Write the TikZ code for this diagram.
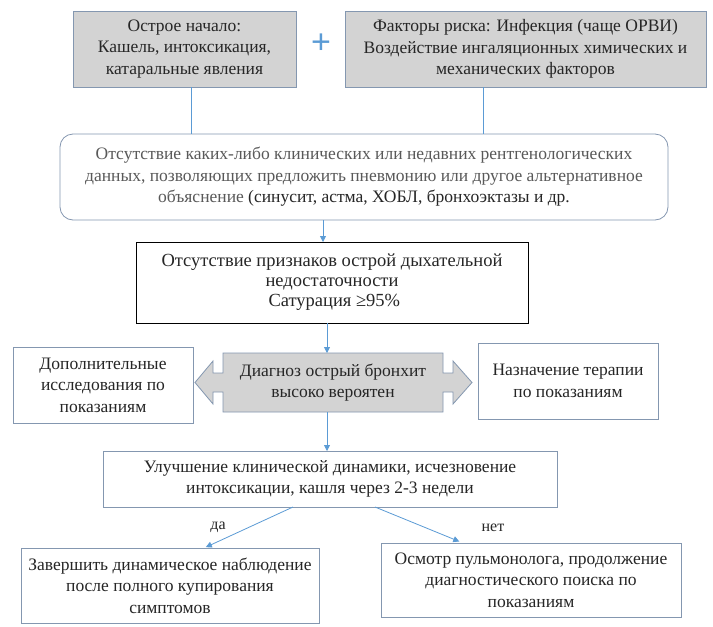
\documentclass[tikz,border=0pt]{standalone}
\usepackage{fontspec}
\setmainfont{LiberationSerif}[Extension=.ttf, UprightFont=*-Regular, BoldFont=*-Bold]
\newfontfamily\plusfont{Liberation Sans}
\usetikzlibrary{arrows.meta,calc}
\definecolor{edgec}{HTML}{8497B0}
\definecolor{arrc}{HTML}{5B9BD5}
\definecolor{grayf}{HTML}{D3D3D3}
\definecolor{txtc}{HTML}{262626}
\definecolor{txtg}{HTML}{595959}
\begin{document}
\begin{tikzpicture}[x=1pt,y=-1pt,
  every node/.style={inner sep=0pt, outer sep=0pt, text=txtc},
  box/.style={draw=edgec, line width=0.8pt, rectangle, align=center,
    font=\fontsize{17.5}{21.5}\selectfont},
  graybox/.style={box, fill=grayf},
  conn/.style={draw=arrc, line width=0.8pt},
  arr/.style={conn, -{Triangle[width=6pt,length=6pt]}},
  lbl/.style={font=\fontsize{16}{18}\selectfont}]
\useasboundingbox (0,0) rectangle (713,627);
\fill[white] (0,0) rectangle (713,627);

\node[graybox, minimum width=223pt, minimum height=76pt] (b1) at (184.5,49)
  {Острое начало:\\Кашель, интоксикация,\\катаральные явления};
\node[graybox, minimum width=361pt, minimum height=76pt] (b2) at (525.5,49)
  {Факторы риска: Инфекция (чаще ОРВИ)\\Воздействие ингаляционных химических и\\механических факторов};
\node[text=arrc, font=\fontsize{34}{34}\plusfont] (plus) at (321,44) {+};

\node[box, rounded corners=13pt, minimum width=608pt, minimum height=86pt, text=txtg] (b3) at (364,177)
  {Отсутствие каких-либо клинических или недавних рентгенологических\\данных, позволяющих предложить пневмонию или другое альтернативное\\объяснение {\color{txtc}(синусит, астма, ХОБЛ, бронхоэктазы и др.}};

\node[box, draw=black, minimum width=392pt, minimum height=81pt, font=\fontsize{18.5}{20}\selectfont] (b4) at (332,282.5)
  {Отсутствие признаков острой дыхательной\\недостаточности\\\ Сатурация ≥95\%};

% double arrow callout
\fill[grayf, draw=edgec, line width=0.8pt]
  (223,353) -- (443,353) -- (443,373) -- (453,373) -- (453,361) -- (472,382.5)
  -- (453,404) -- (453,392) -- (443,392) -- (443,412) -- (223,412) -- (223,392)
  -- (213,392) -- (213,404) -- (195,382.5) -- (213,361) -- (213,373) -- (223,373) -- cycle;
\node[align=center, font=\fontsize{17.5}{21.5}\selectfont, minimum width=220pt, minimum height=59pt] (diag) at (333,382.5)
  {Диагноз острый бронхит\\высоко вероятен};

\node[box, minimum width=180pt, minimum height=76pt] (left) at (103,385)
  {Дополнительные\\исследования по\\показаниям};
\node[box, minimum width=180pt, minimum height=76pt] (right) at (568,381)
  {Назначение терапии\\по показаниям};

\node[box, minimum width=454pt, minimum height=56pt] (b5) at (330,479)
  {Улучшение клинической динамики, исчезновение\\интоксикации, кашля через 2-3 недели};

\node[box, minimum width=298pt, minimum height=75pt] (b6) at (170,585.5)
  {Завершить динамическое наблюдение\\после полного купирования\\симптомов};
\node[box, minimum width=300pt, minimum height=74pt] (b7) at (531,580)
  {Осмотр пульмонолога, продолжение\\диагностического поиска по\\показаниям};

% connectors
\draw[conn] ([xshift=6.5pt]b1.south) -- ([xshift=6.5pt]b1.south |- b3.north);
\draw[conn] ([xshift=-42.5pt]b2.south) -- ([xshift=-42.5pt]b2.south |- b3.north);
\draw[arr] ([xshift=-41pt]b3.south) -- ([xshift=-9pt]b4.north);
\draw[arr] ([xshift=-5pt]b4.south) -- ([xshift=-6pt]diag.north);
\draw[arr] ([xshift=-6pt]diag.south) -- ([xshift=-3pt]b5.north);
\draw[arr, shorten >=2pt] ([xshift=-37pt]b5.south) -- ([xshift=34pt]b6.north);
\draw[arr, shorten >=4pt] ([xshift=45pt]b5.south) -- ([xshift=-68pt]b7.north);
\node[lbl] (yes) at (218,527) {да};
\node[lbl] (no) at (493,528) {нет};
\end{tikzpicture}
\end{document}
